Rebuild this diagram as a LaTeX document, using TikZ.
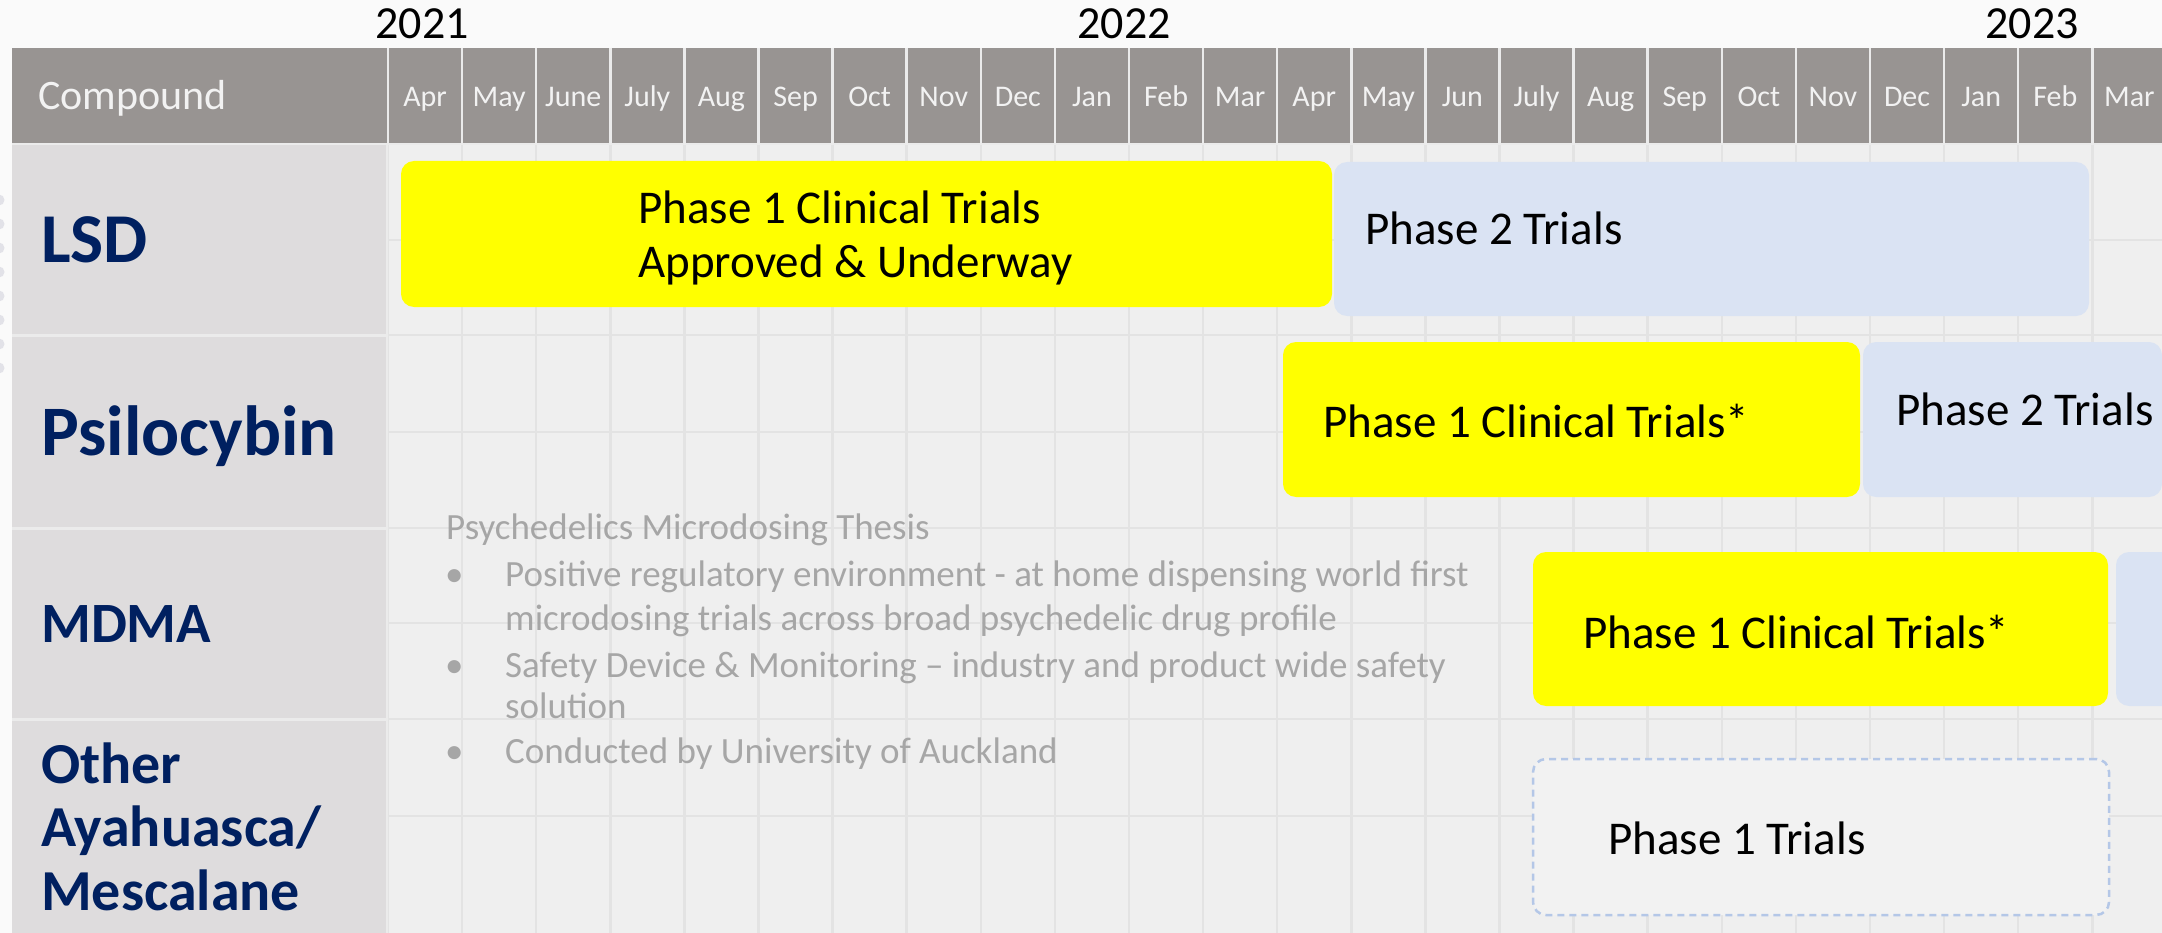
\documentclass[tikz,border=0pt]{standalone}
\usepackage{fontspec}
\setmainfont{Carlito}
\definecolor{pagebg}{HTML}{FAFAFA}
\definecolor{hdr}{HTML}{989492}
\definecolor{hdrtxt}{HTML}{F2F2F2}
\definecolor{colbg}{HTML}{DEDCDD}
\definecolor{chartbg}{HTML}{EFEFEF}
\definecolor{gridc}{HTML}{E3E3E3}
\definecolor{sepc}{HTML}{EBEBEB}
\definecolor{navy}{HTML}{002060}
\definecolor{barY}{HTML}{FFFF00}
\definecolor{barB}{HTML}{DAE3F3}
\definecolor{dashb}{HTML}{B4C7E7}
\definecolor{dashfill}{HTML}{F2F2F2}
\definecolor{thesis}{HTML}{A6A6A6}
\definecolor{dotc}{HTML}{E2E2E8}
\begin{document}
\begin{tikzpicture}[x=1pt,y=-1pt,
  bar/.style={rectangle, rounded corners=13pt, inner sep=0pt, outer sep=0pt, anchor=north west},
  ybar/.style={bar, fill=barY},
  bbar/.style={bar, fill=barB},
  dbar/.style={bar, fill=dashfill, draw=dashb, line width=2.5pt, dash pattern=on 7pt off 5pt},
  bartext/.style={anchor=base west, inner sep=0pt, font=\fontsize{47}{54}\selectfont, text=black},
  month/.style={anchor=base, inner sep=0pt, font=\fontsize{30}{36}\selectfont, text=hdrtxt},
  year/.style={anchor=base, inner sep=0pt, font=\fontsize{46}{55}\selectfont, text=black},
  rowlabel/.style={anchor=base west, inner sep=0pt, text=navy},
  thesistext/.style={anchor=base west, inner sep=0pt, font=\fontsize{37}{44}\selectfont, text=thesis},
  gridline/.style={gridc, line width=2.5pt},
  hdrline/.style={sepc, line width=2.5pt},
  dot/.style={fill=dotc}
]
\useasboundingbox (0,0) rectangle (2162,933);
\clip (0,0) rectangle (2162,933);
% backgrounds
\fill[pagebg] (0,0) rectangle (2162,933);
\fill[hdr] (12,48) rectangle (2162,143);
\fill[colbg] (12,143) rectangle (387,933);
\fill[chartbg] (387,143) rectangle (2162,933);
% left edge dots
\foreach \k in {0,...,7} \fill[dot] (-1,{200+24*\k}) circle (5.5);
% grid lines in chart
\foreach \yy in {240,335,432,528,623,719,816}
  \draw[gridline] (388,\yy) -- (2162,\yy);
\foreach \i in {0,...,24}
  \draw[gridline] ({388+74.1*\i},143) -- ({388+74.1*\i},933);
% header separators
\foreach \i in {0,...,24}
  \draw[hdrline] ({388+74.1*\i},48) -- ({388+74.1*\i},143);
\draw[hdrline] (12,144) -- (2162,144);
% compound column separators
\foreach \yy in {335,528,719}
  \draw[hdrline, line width=3pt] (12,\yy) -- (387,\yy);
\draw[hdrline] (387,143) -- (387,933);
% years
\node[year] (y2021) at (422,39) {2021};
\node[year] (y2022) at (1124,39) {2022};
\node[year] (y2023) at (2032,39) {2023};
% header text
\node[anchor=base west, inner sep=0pt, font=\fontsize{42}{50}\selectfont, text=hdrtxt] (compound) at (38,110) {Compound};
\foreach \m [count=\i from 0] in {Apr,May,June,July,Aug,Sep,Oct,Nov,Dec,Jan,Feb,Mar,Apr,May,Jun,July,Aug,Sep,Oct,Nov,Dec,Jan,Feb,Mar}
  \node[month] (m\i) at ({388+74.1*(\i+0.5)},107) {\m};
% row labels
\node[rowlabel, font=\fontsize{70}{70}\selectfont\bfseries] (lsd) at (41,262) {LSD};
\node[rowlabel, font=\fontsize{71}{71}\selectfont\bfseries] (psilo) at (41,455) {Psilocybin};
\node[rowlabel, font=\fontsize{57}{57}\selectfont\bfseries] (mdma) at (41,642) {MDMA};
\node[rowlabel, font=\fontsize{58}{63}\selectfont\bfseries] (otherA) at (41,783) {Other};
\node[rowlabel, font=\fontsize{58}{63}\selectfont\bfseries] (otherB) at (41,846) {Ayahuasca/};
\node[rowlabel, font=\fontsize{58}{63}\selectfont\bfseries] (otherC) at (41,910) {Mescalane};
% thesis text
\node[thesistext] (th0) at (446,539) {Psychedelics Microdosing Thesis};
\node[thesistext] (b1) at (445,586) {\textbullet};
\node[thesistext] (th1) at (505,586) {Positive regulatory environment - at home dispensing world first};
\node[thesistext] (th2) at (505,630) {microdosing trials across broad psychedelic drug profile};
\node[thesistext] (b2) at (445,677) {\textbullet};
\node[thesistext] (th3) at (505,677) {Safety Device \& Monitoring – industry and product wide safety};
\node[thesistext] (th4) at (505,718) {solution};
\node[thesistext] (b3) at (445,763) {\textbullet};
\node[thesistext] (th5) at (505,763) {Conducted by University of Auckland};
% bars
\node[ybar, minimum width=931pt, minimum height=146pt] (lsdA) at (401,161) {};
\node[bbar, minimum width=755pt, minimum height=154pt] (lsdB) at (1334,162) {};
\node[ybar, minimum width=577pt, minimum height=155pt] (psiA) at (1283,342) {};
\node[bbar, minimum width=299pt, minimum height=155pt] (psiB) at (1863,342) {};
\node[ybar, minimum width=575pt, minimum height=154pt] (mdA) at (1533,552) {};
\node[bbar, minimum width=140pt, minimum height=154pt] (mdB) at (2116,552) {};
\node[dbar, minimum width=576pt, minimum height=156pt] (othA) at (1533,759) {};
% bar texts
\node[bartext] (t1) at (638,224) {Phase 1 Clinical Trials};
\node[bartext] (t2) at (638,278) {Approved \& Underway};
\node[bartext] (t3) at (1365,245) {Phase 2 Trials};
\node[bartext] (t4) at (1323,437) {Phase 1 Clinical Trials*};
\node[bartext] (t5) at (1896,425) {Phase 2 Trials};
\node[bartext] (t6) at (1583,648) {Phase 1 Clinical Trials*};
\node[bartext] (t7) at (1608,854) {Phase 1 Trials};
\end{tikzpicture}
\end{document}
